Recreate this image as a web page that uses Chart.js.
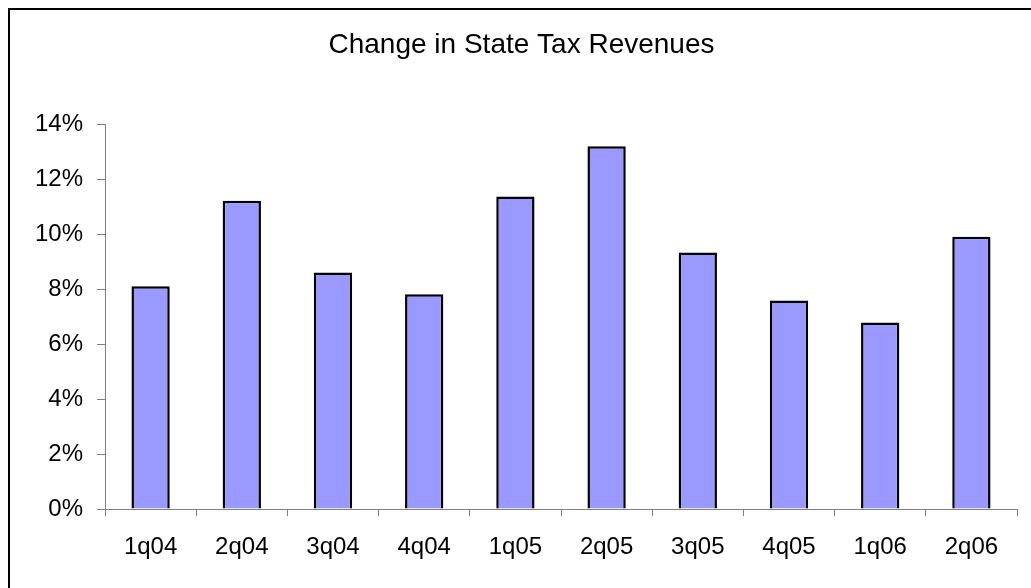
<!DOCTYPE html>
<html>
<head>
<meta charset="utf-8">
<script src="https://cdn.jsdelivr.net/npm/chart.js@4/dist/chart.umd.min.js"></script>
<style>
    html, body { margin: 0; padding: 0; background: #fff; }
    #wrap { position: relative; width: 1031px; height: 588px; overflow: hidden; }
    #frame {
        position: absolute; left: 8px; top: 8px; right: -4px; bottom: -4px;
        border-left: 2px solid #000; border-top: 2px solid #000;
        pointer-events: none;
    }
    canvas { position: absolute; left: 0; top: 0; }
</style>
</head>
<body>
<div id="wrap">
    <canvas id="chart" width="1031" height="588"></canvas>
    <div id="frame"></div>
</div>
<script>
// Quarterly change in state tax revenues (%)
const quarters = ['1q04', '2q04', '3q04', '4q04', '1q05', '2q05', '3q05', '4q05', '1q06', '2q06'];
const changePct = [8.11, 11.23, 8.61, 7.82, 11.38, 13.21, 9.34, 7.59, 6.79, 9.92];
const yTicks = [0, 2, 4, 6, 8, 10, 12, 14];

const FONT = "'Liberation Sans', Arial, sans-serif";
const AXIS_GREY = '#808080';

const ctx = document.getElementById('chart').getContext('2d');

new Chart(ctx, {
    type: 'bar',
    data: {
        labels: quarters,
        datasets: [{
            label: 'Change',
            data: changePct,
            backgroundColor: '#9999FF',
            borderColor: '#000000',
            borderWidth: 2.5,
            barPercentage: 0.42,
            categoryPercentage: 1.0
        }]
    },
    options: {
        responsive: false,
        animation: false,
        // left padding shifts the title centre to match the original
        layout: { padding: { left: 26, right: 14, top: 0, bottom: 0 } },
        plugins: {
            legend: { display: false },
            tooltip: { enabled: false },
            title: {
                display: true,
                text: 'Change in State Tax Revenues',
                color: '#000',
                font: { family: FONT, size: 28, weight: 'normal' },
                padding: { top: 28, bottom: 63 }
            }
        },
        scales: {
            x: {
                grid: {
                    offset: true,
                    drawOnChartArea: false,
                    tickLength: 7,
                    color: AXIS_GREY
                },
                border: { color: AXIS_GREY, width: 1 },
                ticks: {
                    color: '#000',
                    padding: 17,
                    maxRotation: 0,
                    font: { family: FONT, size: 24 }
                },
                afterFit: (scale) => { scale.height = 79; }
            },
            y: {
                min: yTicks[0],
                max: yTicks[yTicks.length - 1],
                grid: {
                    drawOnChartArea: false,
                    tickLength: 8,
                    color: AXIS_GREY
                },
                border: { color: AXIS_GREY, width: 1 },
                afterBuildTicks: (scale) => {
                    scale.ticks = yTicks.map(v => ({ value: v }));
                },
                ticks: {
                    color: '#000',
                    padding: 14,
                    font: { family: FONT, size: 24 },
                    callback: (v) => v + '%'
                },
                afterFit: (scale) => { scale.width = 79; }
            }
        }
    }
});
</script>
</body>
</html>
